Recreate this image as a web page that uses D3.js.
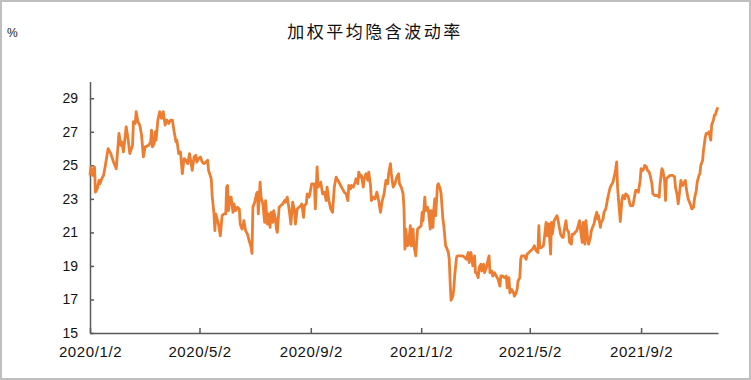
<!DOCTYPE html>
<html>
<head>
<meta charset="utf-8">
<script src="https://cdn.jsdelivr.net/npm/d3@7"></script>
<style>
  body { margin: 0; background: #fff; }
  svg { display: block; }
</style>
</head>
<body>
<div id="chart"></div>
<script>
const DIV_ID = "#chart";
const WIDTH = 751;
const HEIGHT = 380;
const LINE_COLOR = "#ED7D31";
const AXIS_COLOR = "#595959";

const title = "加权平均隐含波动率";
const unitLabel = "%";

const dates = [
  "2020-01-02","2020-01-03","2020-01-05","2020-01-07","2020-01-08","2020-01-10","2020-01-12","2020-01-13","2020-01-15","2020-01-17","2020-01-19","2020-01-22","2020-01-25","2020-01-28","2020-01-31",
  "2020-02-03","2020-02-05","2020-02-06","2020-02-08","2020-02-11","2020-02-13","2020-02-15","2020-02-18","2020-02-19","2020-02-21","2020-02-22","2020-02-24","2020-02-26","2020-02-28",
  "2020-03-01","2020-03-03","2020-03-07","2020-03-09","2020-03-10","2020-03-11","2020-03-13","2020-03-14","2020-03-15","2020-03-17","2020-03-19","2020-03-21","2020-03-23","2020-03-25","2020-03-27","2020-03-29","2020-03-31",
  "2020-04-02","2020-04-04","2020-04-06","2020-04-07","2020-04-09","2020-04-11","2020-04-13","2020-04-15","2020-04-17","2020-04-19","2020-04-21","2020-04-24","2020-04-26","2020-04-28","2020-04-29",
  "2020-05-01","2020-05-03","2020-05-05","2020-05-07","2020-05-09","2020-05-11","2020-05-12","2020-05-15","2020-05-16","2020-05-18","2020-05-19","2020-05-20","2020-05-23","2020-05-25","2020-05-27","2020-05-29","2020-05-31",
  "2020-06-01","2020-06-02","2020-06-03","2020-06-05","2020-06-06","2020-06-08","2020-06-09","2020-06-11","2020-06-13","2020-06-15","2020-06-16","2020-06-18","2020-06-19","2020-06-20","2020-06-22","2020-06-24","2020-06-26","2020-06-28","2020-06-29","2020-06-30",
  "2020-07-02","2020-07-04","2020-07-05","2020-07-06","2020-07-08","2020-07-09","2020-07-11","2020-07-13","2020-07-14","2020-07-16","2020-07-17","2020-07-19","2020-07-20","2020-07-22","2020-07-23","2020-07-25","2020-07-26","2020-07-27","2020-07-29","2020-07-31",
  "2020-08-02","2020-08-04","2020-08-05","2020-08-07","2020-08-09","2020-08-11","2020-08-13","2020-08-15","2020-08-16","2020-08-18","2020-08-20","2020-08-22","2020-08-23","2020-08-25","2020-08-26","2020-08-28","2020-08-29","2020-08-31",
  "2020-09-01","2020-09-03","2020-09-04","2020-09-06","2020-09-07","2020-09-09","2020-09-10","2020-09-12","2020-09-13","2020-09-15","2020-09-17","2020-09-19","2020-09-20","2020-09-22","2020-09-24","2020-09-26","2020-09-28","2020-09-30",
  "2020-10-02","2020-10-04","2020-10-07","2020-10-09","2020-10-11","2020-10-13","2020-10-14","2020-10-16","2020-10-17","2020-10-19","2020-10-21","2020-10-22","2020-10-24","2020-10-25","2020-10-27","2020-10-28","2020-10-30","2020-10-31",
  "2020-11-02","2020-11-04","2020-11-05","2020-11-07","2020-11-08","2020-11-10","2020-11-12","2020-11-14","2020-11-16","2020-11-18","2020-11-20","2020-11-22","2020-11-24","2020-11-26","2020-11-27","2020-11-29","2020-11-30",
  "2020-12-02","2020-12-04","2020-12-06","2020-12-08","2020-12-09","2020-12-11","2020-12-13","2020-12-14","2020-12-15","2020-12-16","2020-12-18","2020-12-19","2020-12-21","2020-12-22","2020-12-24","2020-12-25","2020-12-27","2020-12-28","2020-12-29","2020-12-31",
  "2021-01-02","2021-01-03","2021-01-04","2021-01-06","2021-01-07","2021-01-09","2021-01-10","2021-01-12","2021-01-13","2021-01-15","2021-01-16","2021-01-17","2021-01-18","2021-01-20","2021-01-21","2021-01-23","2021-01-24","2021-01-26","2021-01-27","2021-01-29","2021-01-30",
  "2021-02-01","2021-02-02","2021-02-03","2021-02-04","2021-02-06","2021-02-07","2021-02-08","2021-02-10","2021-02-11","2021-02-14","2021-02-17","2021-02-19","2021-02-21","2021-02-23","2021-02-24","2021-02-26","2021-02-28",
  "2021-03-02","2021-03-03","2021-03-04","2021-03-06","2021-03-07","2021-03-09","2021-03-10","2021-03-12","2021-03-13","2021-03-15","2021-03-17","2021-03-18","2021-03-19","2021-03-21","2021-03-22","2021-03-24","2021-03-26","2021-03-28","2021-03-30","2021-03-31",
  "2021-04-02","2021-04-04","2021-04-06","2021-04-07","2021-04-09","2021-04-10","2021-04-12","2021-04-14","2021-04-15","2021-04-17","2021-04-18","2021-04-19","2021-04-21","2021-04-22","2021-04-23","2021-04-24","2021-04-26","2021-04-28","2021-04-29",
  "2021-05-01","2021-05-03","2021-05-05","2021-05-07","2021-05-09","2021-05-11","2021-05-12","2021-05-13","2021-05-15","2021-05-17","2021-05-18","2021-05-20","2021-05-21","2021-05-22","2021-05-23","2021-05-25","2021-05-26","2021-05-27","2021-05-29","2021-05-30",
  "2021-06-01","2021-06-02","2021-06-04","2021-06-05","2021-06-07","2021-06-08","2021-06-09","2021-06-11","2021-06-12","2021-06-14","2021-06-15","2021-06-17","2021-06-18","2021-06-20","2021-06-21","2021-06-23","2021-06-24","2021-06-26","2021-06-27","2021-06-29","2021-06-30",
  "2021-07-02","2021-07-03","2021-07-05","2021-07-06","2021-07-08","2021-07-09","2021-07-11","2021-07-12","2021-07-13","2021-07-15","2021-07-16","2021-07-17","2021-07-19","2021-07-20","2021-07-22","2021-07-23","2021-07-25","2021-07-26","2021-07-27","2021-07-29","2021-07-30",
  "2021-08-01","2021-08-02","2021-08-04","2021-08-05","2021-08-06","2021-08-07","2021-08-10","2021-08-12","2021-08-13","2021-08-15","2021-08-16","2021-08-18","2021-08-19","2021-08-21","2021-08-22","2021-08-24","2021-08-26","2021-08-27","2021-08-29","2021-08-30",
  "2021-09-01","2021-09-02","2021-09-04","2021-09-05","2021-09-06","2021-09-08","2021-09-09","2021-09-11","2021-09-12","2021-09-14","2021-09-15","2021-09-17","2021-09-20","2021-09-22","2021-09-23","2021-09-25","2021-09-26","2021-09-28","2021-09-29","2021-09-30",
  "2021-10-02","2021-10-04","2021-10-07","2021-10-09","2021-10-10","2021-10-12","2021-10-13","2021-10-15","2021-10-16","2021-10-18","2021-10-19","2021-10-21","2021-10-22","2021-10-24","2021-10-27","2021-10-28","2021-10-30","2021-10-31",
  "2021-11-02","2021-11-03","2021-11-05","2021-11-06","2021-11-07","2021-11-09","2021-11-10","2021-11-12","2021-11-13","2021-11-15","2021-11-16","2021-11-18","2021-11-19","2021-11-21","2021-11-22","2021-11-23","2021-11-24","2021-11-25","2021-11-26"
];

const values = [
  24.4,24.9,24.4,24.9,23.4,23.6,24.1,23.9,24.2,24.4,25.0,26.0,25.7,25.2,24.8,
  26.9,26.2,26.4,25.8,27.3,26.6,25.7,26.2,27.6,27.5,28.2,27.6,27.4,26.8,
  25.5,26.1,26.2,26.4,27.1,26.1,26.3,27.0,26.5,27.7,28.2,27.8,28.2,27.4,27.7,27.5,27.7,
  27.7,27.0,26.4,26.5,25.7,25.8,24.5,25.4,25.3,25.1,25.7,24.7,25.5,25.6,25.2,
  25.4,25.5,25.2,25.1,25.2,25.3,24.7,24.2,23.2,22.1,21.1,22.1,21.5,20.8,22.0,22.1,22.1,
  23.7,23.8,22.3,23.1,23.1,22.2,22.7,22.3,22.5,22.4,21.5,21.2,21.3,21.7,21.1,20.9,20.5,20.1,19.75,22.5,
  22.8,23.3,23.4,22.1,24.0,23.1,22.7,21.6,22.9,21.5,22.1,21.3,22.2,21.6,22.3,21.8,21.2,21.0,22.5,22.6,
  22.7,22.9,22.8,23.1,22.4,21.5,22.8,22.3,21.5,22.4,22.5,22.6,22.7,21.9,22.6,22.7,23.3,23.1,
  23.3,23.9,23.9,23.9,22.4,24.9,23.7,23.9,24.0,23.3,23.4,22.9,23.7,22.9,22.4,22.2,23.7,24.3,
  24.1,23.9,23.6,23.4,23.3,22.9,23.8,23.6,23.8,23.7,24.0,24.2,23.9,24.6,24.3,24.4,23.7,24.2,
  24.5,24.1,24.6,23.8,22.9,23.1,23.0,23.4,22.9,22.2,22.9,23.3,24.1,23.9,24.5,25.1,24.5,
  23.7,23.9,24.3,24.5,23.9,23.7,23.3,22.4,20.0,21.2,20.2,20.3,21.4,20.2,21.2,20.2,19.6,20.4,21.2,21.3,
  21.4,22.2,21.7,23.1,22.3,22.5,22.3,21.2,22.3,21.3,22.4,23.0,22.0,23.8,23.9,23.6,23.3,21.8,21.4,20.2,20.1,
  19.8,19.4,18.0,16.95,17.2,17.6,18.4,19.5,19.6,19.6,19.6,19.5,19.4,19.8,19.2,19.8,19.0,
  19.6,18.6,18.6,18.3,18.9,19.1,18.7,19.1,18.6,18.9,19.4,19.6,18.6,18.7,18.4,18.6,18.4,18.2,17.8,18.4,
  18.4,18.3,18.4,17.7,18.3,17.4,17.6,17.4,17.2,17.4,17.6,18.1,18.3,19.4,19.6,19.6,19.6,19.4,19.7,
  19.8,19.9,20.0,20.2,19.9,19.8,21.4,20.1,20.1,20.2,20.6,21.6,20.8,21.5,21.5,19.7,21.6,20.9,21.7,21.8,
  22.0,21.8,21.2,20.9,20.7,20.7,21.1,21.7,21.2,21.0,20.4,20.3,20.9,20.9,21.0,21.1,21.3,21.7,21.2,20.4,21.6,
  20.3,21.7,20.6,20.3,20.7,21.1,21.4,21.5,21.8,22.2,21.8,22.0,21.3,21.6,21.8,22.2,22.4,22.7,23.0,23.5,23.7,
  23.9,24.0,24.5,24.8,25.2,23.7,21.65,23.0,23.2,23.0,23.3,23.2,23.1,22.6,22.6,22.6,23.2,23.5,23.5,23.4,
  24.1,24.8,24.7,24.8,25.0,24.9,24.7,24.6,24.4,23.9,23.3,23.2,23.2,23.1,23.9,24.8,24.7,24.1,22.9,24.2,
  24.3,24.4,24.4,24.3,23.7,23.2,22.7,23.6,24.1,23.8,23.9,24.1,23.6,23.0,22.6,22.4,22.5,23.0,
  23.5,24.0,24.4,24.5,25.0,25.3,25.9,26.7,26.9,26.9,27.0,26.5,27.4,27.7,28.0,28.0,28.2,28.35,28.46
];

const yTicks = [15, 17, 19, 21, 23, 25, 27, 29];
const tickLabels = ["2020/1/2", "2020/5/2", "2020/9/2", "2021/1/2", "2021/5/2", "2021/9/2"];

drawChart();

function drawChart() {

    const parseDay = d3.timeParse("%Y-%m-%d");
    const parseTick = d3.timeParse("%Y/%m/%d");

    const data = dates.map(function (d, i) {
        return { date: parseDay(d), value: values[i] };
    });
    const tickDates = tickLabels.map(parseTick);

    const svg = d3.select(DIV_ID)
        .append('svg')
        .attr('width', WIDTH)
        .attr('height', HEIGHT)
        .style('font-family', '"Liberation Sans", Arial, sans-serif');

    // outer frame
    svg.append('rect')
        .attr('x', 1).attr('y', 1)
        .attr('width', WIDTH - 2).attr('height', HEIGHT - 2)
        .attr('fill', '#fff')
        .attr('stroke', '#bfbfbf')
        .attr('stroke-width', 2);

    const left = 90, right = 718, top = 81.5, bottom = 333;

    const x = d3.scaleTime()
        .domain(d3.extent(data, function (d) { return d.date; }))
        .range([left, right]);

    const y = d3.scaleLinear()
        .domain([15, 30])
        .range([bottom, top]);

    svg.append('text')
        .attr('x', 375)
        .attr('y', 38)
        .attr('text-anchor', 'middle')
        .style('font-family', '"Noto Sans CJK SC", sans-serif')
        .style('font-size', '17px')
        .style('letter-spacing', '2.5px')
        .attr('fill', '#111')
        .text(title);

    svg.append('text')
        .attr('x', 7)
        .attr('y', 37)
        .style('font-size', '12px')
        .attr('fill', '#222')
        .text(unitLabel);

    const yAxis = svg.append('g')
        .attr('transform', 'translate(' + left + ',0)')
        .call(d3.axisLeft(y).tickValues(yTicks).tickSizeInner(-4).tickSizeOuter(0).tickPadding(12));

    const xAxis = svg.append('g')
        .attr('transform', 'translate(0,' + bottom + ')')
        .call(d3.axisBottom(x).tickValues(tickDates)
            .tickFormat(function (d, i) { return tickLabels[i]; })
            .tickSizeInner(-5).tickSizeOuter(0).tickPadding(13));

    [yAxis, xAxis].forEach(function (g) {
        g.select('.domain').attr('stroke', AXIS_COLOR).attr('stroke-width', 1.5);
        g.selectAll('.tick line').attr('stroke', AXIS_COLOR).attr('stroke-width', 1.5);
        g.selectAll('.tick text')
            .attr('fill', '#111')
            .style('font-family', '"Liberation Sans", Arial, sans-serif')
            .style('font-size', '14px');
    });
    xAxis.selectAll('.tick text').style('font-size', '15px').style('letter-spacing', '0.6px');

    const line = d3.line()
        .x(function (d) { return x(d.date); })
        .y(function (d) { return y(d.value); });

    svg.append('path')
        .datum(data)
        .attr('d', line)
        .attr('fill', 'none')
        .attr('stroke', LINE_COLOR)
        .attr('stroke-width', 2.8)
        .attr('stroke-linejoin', 'round');
}
</script>
</body>
</html>
